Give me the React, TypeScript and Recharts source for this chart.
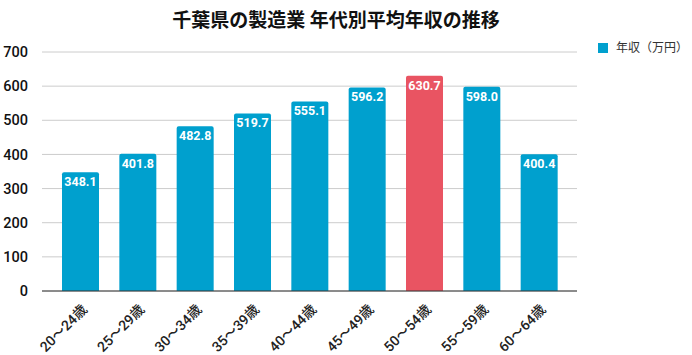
import React from 'react';
import { BarChart, Bar, XAxis, YAxis, CartesianGrid, LabelList, Cell } from 'recharts';

const categories = ['20〜24歳', '25〜29歳', '30〜34歳', '35〜39歳', '40〜44歳', '45〜49歳', '50〜54歳', '55〜59歳', '60〜64歳'];
const incomes = [348.1, 401.8, 482.8, 519.7, 555.1, 596.2, 630.7, 598.0, 400.4];
const highlightIndex = 6;
const yTicks = [0, 100, 200, 300, 400, 500, 600, 700];
const seriesName = '年収（万円）';
const title = '千葉県の製造業 年代別平均年収の推移';

const data = categories.map((c, i) => ({ name: c, value: incomes[i] }));

const FONT = "Roboto, 'Noto Sans CJK JP', sans-serif";
const BLUE = '#00A0CE';
const RED = '#E95462';

const AngledTick = (props: any) => {
  const { x, y, payload } = props;
  return (
    <g transform={`translate(${x + 1},${y + 5})`}>
      <text
        x={0}
        y={0}
        dy={9}
        textAnchor="end"
        transform="rotate(-45)"
        fill="#222"
        fontSize={14}
        fontWeight={500}
        fontFamily={FONT}
      >
        {payload.value}
      </text>
    </g>
  );
};

export default function App() {
  return (
    <div style={{ position: 'absolute', left: 0, top: 0, width: 692, height: 355, background: '#fff' }}>
      <div
        style={{
          position: 'absolute',
          left: 0,
          top: 8,
          width: 672,
          textAlign: 'center',
          fontFamily: FONT,
          fontSize: 19,
          fontWeight: 700,
          color: '#111',
          lineHeight: '26px',
        }}
      >
        {title}
      </div>
      <div
        style={{
          position: 'absolute',
          left: 598,
          top: 41,
          display: 'flex',
          alignItems: 'center',
          fontFamily: FONT,
          fontSize: 12,
          color: '#333',
          lineHeight: '14px',
          zIndex: 2,
        }}
      >
        <span style={{ display: 'inline-block', width: 10, height: 10, background: BLUE, marginRight: 8 }} />
        <span>{seriesName}</span>
      </div>
      <BarChart
        width={692}
        height={355}
        data={data}
        margin={{ top: 52, right: 115, bottom: 0, left: 0 }}
      >
        <CartesianGrid vertical={false} stroke="#cccccc" />
        <XAxis
          dataKey="name"
          height={64}
          interval={0}
          tickLine={false}
          axisLine={{ stroke: '#333' }}
          padding={{ left: 10, right: 9 }}
          tick={<AngledTick />}
        />
        <YAxis
          width={42}
          domain={[0, 700]}
          ticks={yTicks}
          axisLine={false}
          tickLine={false}
          tick={{ fill: '#111', fontSize: 14.5, fontWeight: 500, fontFamily: FONT }}
          tickMargin={8}
        />
        <Bar dataKey="value" name={seriesName} fill={BLUE} barSize={37} radius={[2, 2, 0, 0]} isAnimationActive={false}>
          {data.map((d, i) => (
            <Cell key={d.name} fill={i === highlightIndex ? RED : BLUE} />
          ))}
          <LabelList
            dataKey="value"
            position="insideTop"
            offset={5}
            fill="#fff"
            fontSize={12.5}
            fontWeight={700}
            fontFamily={FONT}
            formatter={(v: any) => Number(v).toFixed(1)}
          />
        </Bar>
      </BarChart>
    </div>
  );
}
